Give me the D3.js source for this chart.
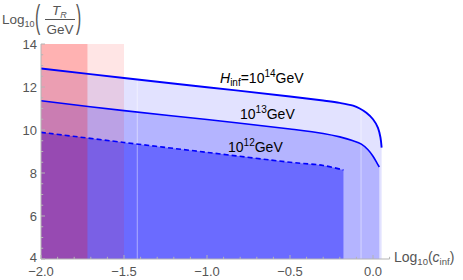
<!DOCTYPE html>
<html><head><meta charset="utf-8">
<script src="https://cdn.jsdelivr.net/npm/d3@7"></script>
<style>body{margin:0;background:#fff}svg{display:block;font-family:"Liberation Sans",Arial,sans-serif}</style>
</head><body><svg id="c" width="463" height="280"></svg>
<script>
// ---- data ----
const xTicks = [-2.0, -1.5, -1.0, -0.5, 0.0];
const yTicks = [4, 6, 8, 10, 12, 14];
// H_inf = 1e14 GeV boundary
const cH14 = [-2.0, -1.5, -1.0, -0.5, -0.3, -0.2, -0.12, -0.08, -0.04, 0.0, 0.03, 0.045, 0.052];
const tH14 = [12.86, 12.42, 11.99, 11.56, 11.37, 11.26, 11.13, 11.00, 10.80, 10.50, 10.10, 9.65, 9.18];
// H_inf = 1e13 GeV boundary
const cH13 = [-2.0, -1.5, -1.0, -0.5, -0.3, -0.2, -0.12, -0.07, -0.03, 0.0, 0.025, 0.038];
const tH13 = [11.36, 10.90, 10.49, 10.05, 9.84, 9.68, 9.50, 9.34, 9.08, 8.78, 8.45, 8.28];
// H_inf = 1e12 GeV boundary (dashed)
const cH12 = [-2.0, -1.5, -1.0, -0.5, -0.3, -0.178];
const tH12 = [9.89, 9.42, 8.96, 8.50, 8.35, 8.14];
// excluded c_inf bands (red)
const redEdges = [-2.0, -1.72, -1.5];
// faint polygon seams
const seams = [-1.42, -0.072];
const labels = ["H_inf=10^14GeV", "10^13GeV", "10^12GeV"];

// ---- layout ----
const svg = d3.select("#c");
const x = d3.scaleLinear().domain([-2.0, 0.1]).range([41, 389.6]);
const y = d3.scaleLinear().domain([4, 14]).range([259, 44]);
const axisCol = "#b4b4b4", tickTxt = "#555";

const pts = (cs, ts) => cs.map((c, i) => [c, ts[i]]);
const d14 = pts(cH14, tH14), d13 = pts(cH13, tH13), d12 = pts(cH12, tH12);
const line = d3.line().x(d => x(d[0])).y(d => y(d[1])).curve(d3.curveCatmullRom.alpha(0.5));
function regionPath(d) {
  const last = d[d.length - 1];
  return line(d) + `L${x(last[0])},${y(4)}L${x(d[0][0])},${y(4)}Z`;
}

svg.append("path").attr("d", regionPath(d14)).attr("fill", "#e2e2ff");
svg.append("path").attr("d", regionPath(d13)).attr("fill", "#b4b4ff");
svg.append("path").attr("d", regionPath(d12)).attr("fill", "#6b6bff");

// seams
function interp(d, c) {
  for (let i = 0; i < d.length - 1; i++) {
    if (c >= d[i][0] && c <= d[i + 1][0]) {
      const t = (c - d[i][0]) / (d[i + 1][0] - d[i][0]);
      return d[i][1] + t * (d[i + 1][1] - d[i][1]);
    }
  }
  return d[d.length - 1][1];
}
seams.forEach(s => {
  svg.append("line").attr("x1", x(s)).attr("x2", x(s))
    .attr("y1", y(interp(d14, s)) + 1).attr("y2", y(4))
    .attr("stroke", "#fff").attr("stroke-opacity", 0.45).attr("stroke-width", 1);
});

// red bands
const redOp = [0.3, 0.1];
for (let i = 0; i < redEdges.length - 1; i++) {
  svg.append("rect").attr("x", x(redEdges[i])).attr("width", x(redEdges[i + 1]) - x(redEdges[i]))
    .attr("y", y(14)).attr("height", y(4) - y(14))
    .attr("fill", "#ff0000").attr("fill-opacity", redOp[i]);
}

// boundary lines
svg.append("path").attr("d", line(d14)).attr("fill", "none").attr("stroke", "#0000ff").attr("stroke-width", 1.9);
svg.append("path").attr("d", line(d13)).attr("fill", "none").attr("stroke", "#0000ff").attr("stroke-width", 1.6);
svg.append("path").attr("d", line(d12)).attr("fill", "none").attr("stroke", "#0000ff").attr("stroke-width", 1.6)
  .attr("stroke-dasharray", "5,3");

// axes
const fmt = d3.format(".1f");
const gx = svg.append("g");
gx.append("line").attr("x1", x(-2)).attr("x2", x(0.1)).attr("y1", y(4)).attr("y2", y(4)).attr("stroke", axisCol);
d3.range(-2.0, 0.1001, 0.1).forEach(v => {
  const major = xTicks.some(t => Math.abs(t - v) < 1e-6);
  gx.append("line").attr("x1", x(v)).attr("x2", x(v)).attr("y1", y(4)).attr("y2", y(4) - (major ? 4 : 2.2))
    .attr("stroke", axisCol);
});
xTicks.forEach(v => {
  gx.append("text").attr("x", x(v)).attr("y", 275.5).attr("text-anchor", "middle")
    .attr("font-size", 13).attr("fill", tickTxt).text(fmt(v));
});
const gy = svg.append("g");
gy.append("line").attr("x1", x(-2)).attr("x2", x(-2)).attr("y1", y(4)).attr("y2", y(14)).attr("stroke", axisCol);
d3.range(4, 14.001, 0.5).forEach(v => {
  const major = yTicks.includes(v);
  gy.append("line").attr("x1", x(-2)).attr("x2", x(-2) + (major ? 4 : 2.2)).attr("y1", y(v)).attr("y2", y(v))
    .attr("stroke", axisCol);
});
yTicks.forEach(v => {
  gy.append("text").attr("x", 37).attr("y", Math.min(y(v) + 4.6, 261.5)).attr("text-anchor", "end")
    .attr("font-size", 13).attr("fill", tickTxt).text(v);
});

// y-axis label: Log10(T_R / GeV)
const yl = svg.append("g").attr("fill", "#555");
const t1 = yl.append("text").attr("x", 2).attr("y", 24).attr("font-size", 13.5);
t1.append("tspan").text("Log");
t1.append("tspan").attr("font-size", 9).attr("dy", 3).text("10");
yl.append("text").attr("transform", "translate(35,28) scale(1.2,2.5)").attr("font-size", 13).text("(");
yl.append("text").attr("transform", "translate(76,28) scale(1.2,2.5)").attr("font-size", 13).text(")");
const t2 = yl.append("text").attr("x", 52).attr("y", 15).attr("font-size", 13.5);
t2.append("tspan").attr("font-style", "italic").text("T");
t2.append("tspan").attr("font-style", "italic").attr("font-size", 9).attr("dy", 3).text("R");
yl.append("line").attr("x1", 45).attr("x2", 75).attr("y1", 19.5).attr("y2", 19.5).attr("stroke", "#555").attr("stroke-width", 1);
yl.append("text").attr("x", 60).attr("y", 33.5).attr("text-anchor", "middle").attr("font-size", 13.5).text("GeV");

// x-axis label: Log10(c_inf)
const xl = svg.append("text").attr("x", 394).attr("y", 262).attr("font-size", 14).attr("fill", "#555");
xl.append("tspan").text("Log");
xl.append("tspan").attr("font-size", 9.5).attr("dy", 3).text("10");
xl.append("tspan").attr("dy", -3).text("(");
xl.append("tspan").attr("font-style", "italic").text("c");
xl.append("tspan").attr("font-size", 9.5).attr("dy", 3).text("inf");
xl.append("tspan").attr("dy", -3).text(")");

// curve labels
function richLabel(str, px, py) {
  const t = svg.append("text").attr("x", px).attr("y", py).attr("font-size", 14).attr("fill", "#000");
  const m = str.match(/^(?:H_inf=)?10\^(\d+)GeV$/);
  if (str.startsWith("H_inf")) {
    t.append("tspan").attr("font-style", "italic").text("H");
    t.append("tspan").attr("font-size", 10).attr("dy", 3).text("inf");
    t.append("tspan").attr("dy", -3).text("=10");
  } else {
    t.append("tspan").text("10");
  }
  t.append("tspan").attr("font-size", 10).attr("dy", -6).text(m[1]);
  t.append("tspan").attr("dy", 6).text("GeV");
}
richLabel(labels[0], 220, 82.5);
richLabel(labels[1], 240, 118.5);
richLabel(labels[2], 228, 152);
</script></body></html>
